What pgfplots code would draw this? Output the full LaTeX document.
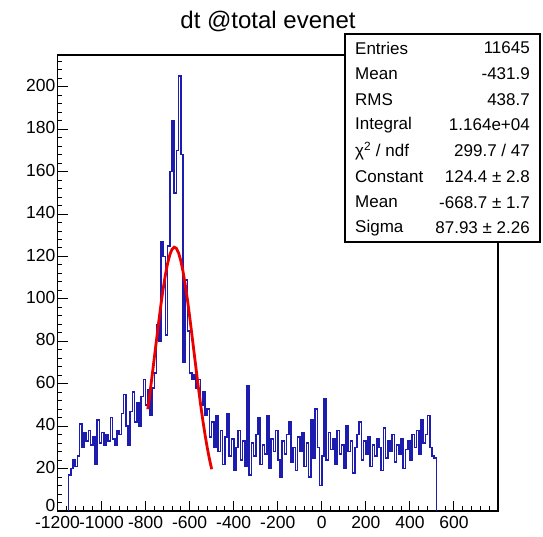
\documentclass[border=0pt]{standalone}
\usepackage{fontspec}
\setmainfont{Liberation Sans}
\usepackage{pgfplots}
\pgfplotsset{compat=1.18}
\definecolor{histblue}{RGB}{28,28,175}
\definecolor{fitred}{RGB}{235,0,0}

\begin{document}
\begin{tikzpicture}[x=1pt,y=1pt]
\begin{axis}[
  scale only axis, width=440.5pt, height=456pt,
  xmin=-1200, xmax=800, ymin=0, ymax=215,
  xtick={-1200,-1000,...,600},
  minor xtick={-1160,-1120,...,760},
  ytick={20,40,...,200},
  extra y ticks={0},
  extra y tick style={yticklabel style={yshift=4pt}},
  minor ytick={4,8,...,212},
  tick pos=left, tick align=inside,
  major tick length=10pt, minor tick length=5pt,
  every tick/.style={black, line width=1pt},
  axis line style={line width=1.2pt},
  ticklabel style={font=\fontsize{17.5}{17.5}\selectfont},
  xticklabel style={inner sep=1pt, yshift=-4pt},
  yticklabel style={inner sep=2pt, yshift=1.5pt},
  /pgf/number format/assume math mode=true,
  /pgf/number format/1000 sep={},
]
% histogram, 10-unit bins (left edges)
\addplot[histblue, line width=1.6pt, const plot mark left] coordinates {
  (-1150,0)
  (-1150,17)(-1140,20)(-1130,24)(-1120,21)(-1110,26)(-1100,41)(-1090,30)(-1080,37)(-1070,33)(-1060,38)
  (-1050,31)(-1040,35)(-1030,22)(-1020,43)(-1010,32)(-1000,37)(-990,31)(-980,36)(-970,33)(-960,44)
  (-950,34)(-940,31)(-930,38)(-920,36)(-910,46)(-900,55)(-890,40)(-880,31)(-870,47)(-860,56)
  (-850,42)(-840,51)(-830,40)(-820,54)(-810,62)(-800,50)(-790,57)(-780,45)(-770,58)(-760,65)
  (-750,88)(-740,80)(-730,127)(-720,120)(-710,83)(-700,125)(-690,160)(-680,184)(-670,150)(-660,170)
  (-650,205)(-640,168)(-630,70)(-620,109)(-610,85)(-600,65)(-590,62)(-580,64)(-570,58)(-560,62)
  (-550,50)(-540,56)(-530,45)(-520,48)(-510,35)(-500,42)(-490,30)
  (-480,45)(-470,28)(-460,38)(-450,22)(-440,35)(-430,46)(-420,26)(-410,34)(-400,19)(-390,30)
  (-380,38)(-370,24)(-360,33)(-350,21)(-340,59)(-330,17)(-320,32)(-310,26)(-300,36)(-290,44)
  (-280,22)(-270,31)(-260,27)(-250,45)(-240,20)(-230,34)(-220,28)(-210,38)(-200,24)(-190,16)
  (-180,33)(-170,27)(-160,36)(-150,42)(-140,23)(-130,30)(-120,19)(-110,35)(-100,28)(-90,37)
  (-80,21)(-70,32)(-60,16)(-50,43)(-40,25)(-30,48)(-20,30)(-10,12)(0,26)(10,53)
  (20,24)(30,37)(40,29)(50,34)(60,22)(70,38)(80,27)(90,31)(100,20)(110,40)
  (120,28)(130,33)(140,18)(150,30)(160,36)(170,42)(180,24)(190,33)(200,27)(210,35)
  (220,21)(230,31)(240,26)(250,34)(260,30)(270,19)(280,39)(290,25)(300,33)(310,28)
  (320,36)(330,23)(340,31)(350,27)(360,34)(370,20)(380,29)(390,33)(400,24)(410,36)
  (420,30)(430,38)(440,27)(450,43)(460,32)(470,36)(480,45)(490,30)(500,26)(510,25)
  (520,0)
};
% gaussian fit, tabulated
\addplot[fitred, line width=2.8pt] coordinates {
  (-790,48.0)(-780,55.8)(-770,64.1)(-760,72.6)(-750,81.1)(-740,89.5)(-730,97.6)(-720,104.9)
  (-710,111.4)(-700,116.8)(-690,120.8)(-680,123.4)(-670,124.4)(-660,123.8)(-650,121.6)
  (-640,117.9)(-630,112.9)(-620,106.7)(-610,99.6)(-600,91.7)(-590,83.3)(-580,74.8)
  (-570,66.3)(-560,57.9)(-550,50.0)(-540,42.6)(-530,35.9)(-520,29.8)(-510,24.4)(-500,19.7)
};
\end{axis}

\begin{scope}[shift={(-57.5,-26)}]
\node[font=\fontsize{24}{24}\selectfont] at (268,516) {dt @total evenet};

% stats box
\draw[fill=white, line width=1.2pt] (345,503) rectangle (540,295);
\begin{scope}[every node/.style={font=\fontsize{17}{17}\selectfont, inner sep=0pt}]
\node[anchor=west] at (355,489.0) {Entries};   \node[anchor=east] at (530,489.0) {11645};
\node[anchor=west] at (355,463.3) {Mean};      \node[anchor=east] at (530,463.3) {-431.9};
\node[anchor=west] at (355,437.6) {RMS};       \node[anchor=east] at (530,437.6) {438.7};
\node[anchor=west] at (355,411.9) {Integral};  \node[anchor=east] at (530,411.9) {1.164e+04};
\node[anchor=west] at (355,386.2) {χ\textsuperscript{2} / ndf}; \node[anchor=east] at (530,386.2) {299.7 / 47};
\node[anchor=west] at (355,360.5) {Constant};  \node[anchor=east] at (530,360.5) {124.4 ± 2.8};
\node[anchor=west] at (355,334.8) {Mean};      \node[anchor=east] at (530,334.8) {-668.7 ± 1.7};
\node[anchor=west] at (355,309.1) {Sigma};     \node[anchor=east] at (530,309.1) {87.93 ± 2.26};
\end{scope}
\pgfresetboundingbox
\useasboundingbox (0,0) rectangle (543,537);
\end{scope}
\end{tikzpicture}
\end{document}
